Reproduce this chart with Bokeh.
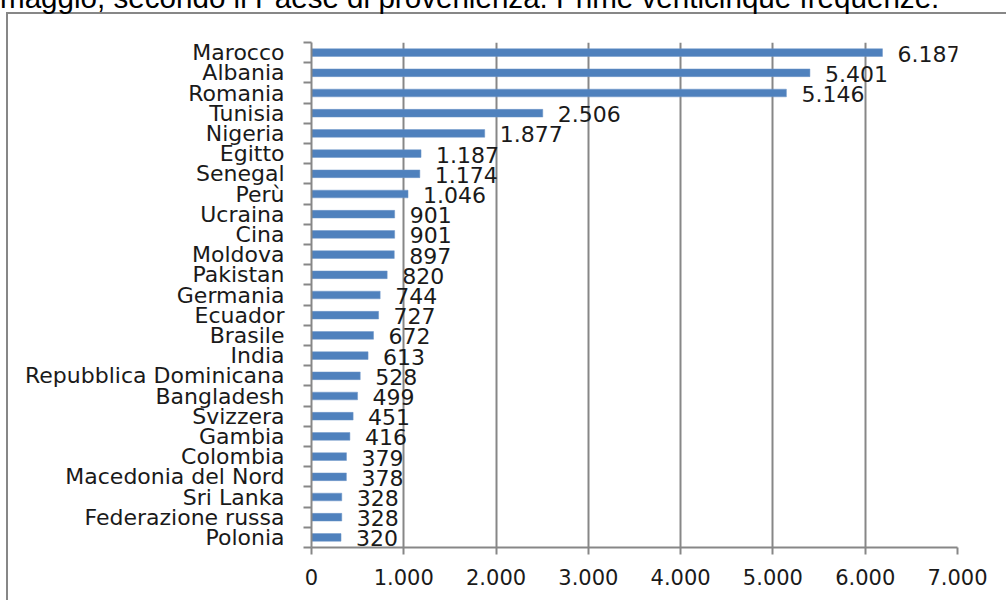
from bokeh.plotting import figure
from bokeh.models import ColumnDataSource, Range1d, FixedTicker, Div
from bokeh.layouts import column
from bokeh.core.properties import value
from bokeh.embed import file_html
from bokeh.resources import INLINE

title_text = "maggio, secondo il Paese di provenienza. Prime venticinque frequenze."

countries = ["Marocco", "Albania", "Romania", "Tunisia", "Nigeria", "Egitto",
             "Senegal", "Perù", "Ucraina", "Cina", "Moldova", "Pakistan",
             "Germania", "Ecuador", "Brasile", "India", "Repubblica Dominicana",
             "Bangladesh", "Svizzera", "Gambia", "Colombia", "Macedonia del Nord",
             "Sri Lanka", "Federazione russa", "Polonia"]
counts = [6187, 5401, 5146, 2506, 1877, 1187, 1174, 1046, 901, 901, 897, 820,
          744, 727, 672, 613, 528, 499, 451, 416, 379, 378, 328, 328, 320]
x_ticks = [0, 1000, 2000, 3000, 4000, 5000, 6000, 7000]
x_tick_labels = ["0", "1.000", "2.000", "3.000", "4.000", "5.000", "6.000", "7.000"]

def it_fmt(v):
    return f"{v:,}".replace(",", ".")

n = len(countries)
ypos = [n - 1 - i for i in range(n)]
src = ColumnDataSource(dict(y=ypos, v=counts, lab=[it_fmt(c) for c in counts]))

GRAY = "#878787"
TXT = "#1a1a1a"
FONT = "DejaVu Sans"

p = figure(width=1006, height=600, output_backend="svg", toolbar_location=None,
           x_range=Range1d(0, 7000), y_range=Range1d(-0.5, n - 0.5),
           min_border_left=311, min_border_right=49, min_border_top=42,
           min_border_bottom=53, background_fill_color="white",
           border_fill_color=None)
# outer frame of the original picture: only its left and top edges are visible
p.styles = {
    "background": ("linear-gradient(#878787,#878787) 6px 12px / 2px 2000px no-repeat, "
                   "linear-gradient(#878787,#878787) 6px 12px / 2000px 2px no-repeat, white"),
}
p.outline_line_color = None

p.hbar(y="y", left=0, right="v", height=0.38, source=src,
       fill_color="#4F81BD", line_color="#6F97C9", line_width=0.5)
p.text(x="v", y="y", text="lab", source=src, x_offset=15, y_offset=1,
       text_align="left", text_baseline="middle", text_font=value(FONT),
       text_font_size="22px", text_color=TXT)

# x axis
p.xaxis.ticker = FixedTicker(ticks=x_ticks)
p.xaxis.major_label_overrides = dict(zip(x_ticks, x_tick_labels))
p.xaxis.axis_line_color = GRAY
p.xaxis.axis_line_width = 2
p.xaxis.major_tick_in = 0
p.xaxis.major_tick_out = 7
p.xaxis.major_tick_line_color = GRAY
p.xaxis.major_tick_line_width = 2
p.xaxis.minor_tick_line_color = None
p.xaxis.major_label_standoff = 14
p.xaxis.major_label_text_font = FONT
p.xaxis.major_label_text_font_size = "21px"
p.xaxis.major_label_text_color = TXT

# y axis
p.yaxis.ticker = FixedTicker(ticks=ypos, minor_ticks=[k - 0.5 for k in range(n + 1)])
p.yaxis.major_label_overrides = {y: c for y, c in zip(ypos, countries)}
p.yaxis.axis_line_color = GRAY
p.yaxis.axis_line_width = 2
p.yaxis.major_tick_in = 0
p.yaxis.major_tick_out = 0
p.yaxis.major_tick_line_color = None
p.yaxis.minor_tick_in = 0
p.yaxis.minor_tick_out = 8
p.yaxis.minor_tick_line_color = GRAY
p.yaxis.minor_tick_line_width = 2
p.yaxis.major_label_standoff = 19
p.yaxis.major_label_text_font = FONT
p.yaxis.major_label_text_font_size = "22px"
p.yaxis.major_label_text_color = TXT

p.xgrid.ticker = FixedTicker(ticks=x_ticks)
p.xgrid.grid_line_color = GRAY
p.xgrid.grid_line_width = 2
p.ygrid.visible = False

# caption line of the original page, cut off at the top edge
caption = Div(text=title_text, width=1000, height=30,
              styles={"position": "absolute", "left": "0px", "top": "-17px",
                      "font-family": "'Liberation Sans', Arial, sans-serif",
                      "font-size": "29.6px", "line-height": "30px",
                      "color": "#000000", "white-space": "nowrap",
                      "z-index": "2", "margin": "0px"})

layout = column(p, caption)
open("out.html", "w").write(file_html(layout, INLINE))
